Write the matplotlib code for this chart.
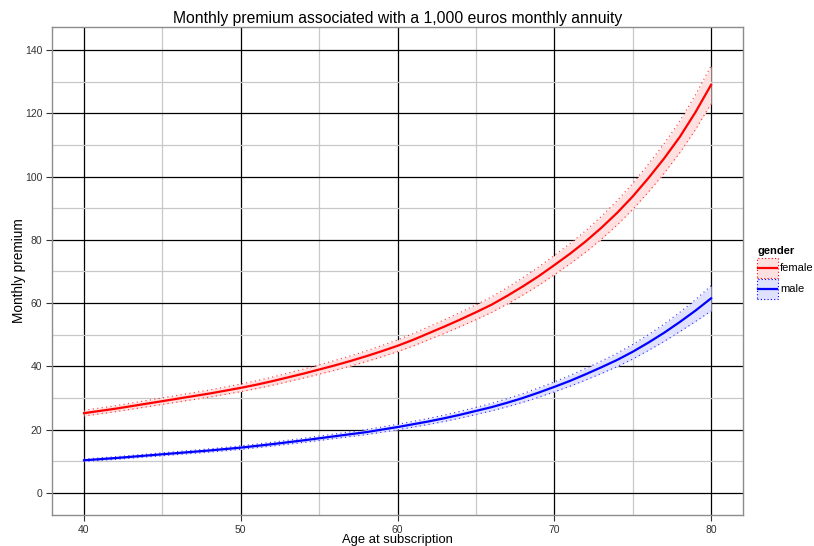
import numpy as np
import matplotlib.pyplot as plt
from matplotlib.patches import Rectangle
from matplotlib.lines import Line2D

# age at subscription
ages = list(range(40, 81))

# monthly premium, female
female = [25.2, 25.9, 26.6, 27.4, 28.2, 29.0, 29.8, 30.6, 31.4, 32.3,
          33.2, 34.2, 35.3, 36.5, 37.7, 39.0, 40.3, 41.7, 43.2, 44.8,
          46.5, 48.4, 50.5, 52.6, 54.8, 57.1, 59.5, 62.3, 65.3, 68.5,
          72.0, 75.6, 79.5, 83.8, 88.5, 93.7, 99.5, 105.7, 112.5, 120.3,
          129.0]
# half width of the female band
female_hw = [0.9, 0.92, 0.95, 0.98, 1.0, 1.03, 1.06, 1.09, 1.12, 1.16,
             1.2, 1.25, 1.3, 1.36, 1.42, 1.48, 1.55, 1.62, 1.7, 1.78,
             1.87, 1.96, 2.05, 2.15, 2.25, 2.36, 2.48, 2.6, 2.74, 2.9,
             3.05, 3.2, 3.4, 3.6, 3.85, 4.1, 4.4, 4.7, 5.0, 5.5,
             6.0]

# monthly premium, male
male = [10.3, 10.65, 11.0, 11.4, 11.8, 12.2, 12.6, 13.0, 13.4, 13.85,
        14.3, 14.85, 15.4, 16.0, 16.6, 17.25, 17.9, 18.55, 19.2, 20.0,
        20.8, 21.7, 22.6, 23.6, 24.7, 25.9, 27.1, 28.5, 30.0, 31.7,
        33.5, 35.4, 37.5, 39.7, 42.0, 44.6, 47.5, 50.6, 54.0, 57.6,
        61.5]
male_hw = [0.4, 0.41, 0.42, 0.43, 0.44, 0.46, 0.48, 0.5, 0.52, 0.54,
           0.56, 0.58, 0.6, 0.63, 0.66, 0.69, 0.72, 0.75, 0.79, 0.83,
           0.87, 0.91, 0.96, 1.01, 1.07, 1.13, 1.2, 1.28, 1.37, 1.47,
           1.58, 1.7, 1.83, 1.97, 2.12, 2.3, 2.5, 2.75, 3.05, 3.45,
           4.0]

plt.rcParams['font.family'] = ['Liberation Sans', 'DejaVu Sans']

W, H = 814, 546
fig = plt.figure(figsize=(W / 100, H / 100), dpi=100)
ax = fig.add_axes([0.0639, 0.0568, 0.8489, 0.8937])

series = [("female", female, female_hw, "#FF0000", "#FFE0E0"),
          ("male", male, male_hw, "#0000FF", "#E0E0FF")]

for name, y, hw, col, fill in series:
    y = np.array(y)
    hw = np.array(hw)
    ax.fill_between(ages, y - hw, y + hw, color=fill, lw=0, zorder=3)
    ax.plot(ages, y - hw, color=col, lw=0.8, ls=(0, (1, 3)), alpha=0.8, zorder=4)
    ax.plot(ages, y + hw, color=col, lw=0.8, ls=(0, (1, 3)), alpha=0.8, zorder=4)
    ax.plot(ages, y, color=col, lw=1.6, zorder=5)

ax.set_xlim(37.96, 82.04)
ax.set_ylim(-7.0, 147.3)
ax.set_xticks([40, 50, 60, 70, 80])
ax.set_yticks([0, 20, 40, 60, 80, 100, 120, 140])
ax.set_xticks([45, 55, 65, 75], minor=True)
ax.set_yticks([10, 30, 50, 70, 90, 110, 130], minor=True)
ax.grid(which="major", color="black", lw=0.9, zorder=1)
ax.grid(which="minor", color="#C8C8C8", lw=0.9, zorder=1)
ax.set_axisbelow(True)
ax.tick_params(which="major", length=4, width=0.8, color="#333333",
               labelsize=7.5, labelcolor="#333333", pad=3)
ax.tick_params(which="minor", length=0)
for s in ax.spines.values():
    s.set_color("#8C8C8C")
    s.set_linewidth(1.0)

ax.set_title("Monthly premium associated with a 1,000 euros monthly annuity",
             fontsize=11.3, pad=3)
ax.set_xlabel("Age at subscription", fontsize=9.4, labelpad=-0.8)
ax.set_ylabel("Monthly premium", fontsize=9.8, labelpad=-1)

# legend drawn by hand, in pixel positions of the figure
def fx(px):
    return px / W

def fy(py):
    return 1 - py / H

fig.text(fx(757), fy(251), "gender", fontsize=8, fontweight="bold",
         va="center", ha="left")
for i, (name, y, hw, col, fill) in enumerate(series):
    top = 258 + i * 21
    fig.add_artist(Rectangle((fx(757), fy(top + 20)), 21 / W, 20 / H,
                             transform=fig.transFigure, facecolor=fill,
                             edgecolor=col, ls=(0, (1, 2)), lw=0.8))
    fig.add_artist(Line2D([fx(758), fx(777)], [fy(top + 10)] * 2,
                          transform=fig.transFigure, color=col, lw=1.6))
    fig.text(fx(780), fy(top + 10), name, fontsize=8, va="center", ha="left")

fig.savefig("out.png", dpi=100)
